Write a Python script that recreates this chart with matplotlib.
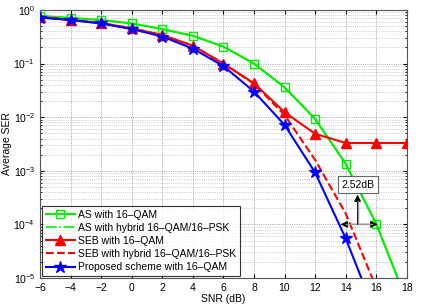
import numpy as np
import matplotlib
matplotlib.use('Agg')
import matplotlib.pyplot as plt
from matplotlib.ticker import LogLocator, NullFormatter

# SNR points (dB)
snr = [-6, -4, -2, 0, 2, 4, 6, 8, 10, 12, 14, 16, 18]

# Average SER
as_qam = [0.77, 0.71, 0.65, 0.56, 0.44, 0.33, 0.207, 0.10, 0.036, 0.0093, 0.00135, 1.03e-4, 3.7e-6]
as_hybrid = [0.77, 0.71, 0.65, 0.56, 0.44, 0.33, 0.207, 0.10, 0.036, 0.0093, 0.00135, 1.03e-4, 3.7e-6]
seb_qam = [0.74, 0.65, 0.57, 0.455, 0.34, 0.216, 0.10, 0.043, 0.0124, 0.0049, 0.0033, 0.0033, 0.0033]
seb_hybrid = [0.74, 0.65, 0.57, 0.455, 0.34, 0.216, 0.10, 0.042, 0.011, 0.0016, 1.6e-4, 6.6e-6, 2e-7]
proposed = [0.72, 0.65, 0.56, 0.44, 0.32, 0.19, 0.09, 0.030, 0.0072, 9.3e-4, 5.5e-5, 2e-6, 1e-7]

labels = ['AS with 16\u2013QAM', 'AS with hybrid 16\u2013QAM/16\u2013PSK',
          'SEB with 16\u2013QAM', 'SEB with hybrid 16\u2013QAM/16\u2013PSK',
          'Proposed scheme with 16\u2013QAM']

plt.rcParams['font.family'] = ['Liberation Sans', 'DejaVu Sans']
plt.rcParams['mathtext.fontset'] = 'custom'
plt.rcParams['mathtext.rm'] = 'Liberation Sans'
plt.rcParams['font.size'] = 7.5

fig = plt.figure(figsize=(4.32, 3.07), dpi=100)
ax = fig.add_axes([0.0926, 0.0945, 0.849, 0.873])

green = '#00ee00'
ax.semilogy(snr, as_qam, '-', color=green, lw=1.5, marker='s', ms=5.5,
            mfc='none', mew=1.0, label=labels[0], zorder=3)
ax.semilogy(snr, as_hybrid, '-.', color=green, lw=1.2, label=labels[1], zorder=2)
ax.semilogy(snr, seb_qam, '-', color='red', lw=1.5, marker='^', ms=6.5,
            label=labels[2], zorder=3)
ax.semilogy(snr, seb_hybrid, '--', color='red', lw=1.5, label=labels[3], zorder=3)
ax.semilogy(snr, proposed, '-', color='blue', lw=1.5, marker='*', ms=9,
            label=labels[4], zorder=4)

# 2.52 dB annotation
arrow = dict(arrowstyle='-|>', color='black', lw=0.8, mutation_scale=10,
             shrinkA=0, shrinkB=0)
ax.annotate('', xy=(13.67, 1e-4), xytext=(14.78, 1e-4), arrowprops=arrow, zorder=5)
ax.annotate('', xy=(16.09, 1e-4), xytext=(14.78, 1e-4), arrowprops=arrow, zorder=5)
ax.plot([14.0, 15.75], [1e-4, 1e-4], color='#999999', lw=1.0, zorder=5)
ax.annotate('', xy=(14.78, 3.6e-4), xytext=(14.78, 1e-4), arrowprops=arrow, zorder=5)
ax.plot([14.78, 14.78], [1e-4, 2.7e-4], color='#999999', lw=1.0, zorder=5)
ax.text(14.82, 5.5e-4, '2.52dB', ha='center', va='center', fontsize=7.5,
        bbox=dict(boxstyle='square,pad=0.35', fc='white', ec='#666666', lw=0.8),
        zorder=6)

ax.set_xlim(-6, 18)
ax.set_ylim(1e-5, 1)
ax.set_xticks(range(-6, 19, 2))
ax.set_xticklabels(['\u22126', '\u22124', '\u22122'] + [str(v) for v in range(0, 19, 2)])
ax.yaxis.set_major_locator(LogLocator(base=10, numticks=10))
ax.yaxis.set_minor_locator(LogLocator(base=10, subs=np.arange(2, 10), numticks=20))
ax.yaxis.set_minor_formatter(NullFormatter())

ax.grid(True, which='major', linestyle=':', color='#888888', lw=0.6)
ax.grid(True, which='minor', linestyle=':', color='#aaaaaa', lw=0.5)
ax.tick_params(which='both', direction='in', top=True, right=True, labelsize=7.5)
ax.tick_params(which='major', length=3)
ax.tick_params(which='minor', length=1.5)
for s in ax.spines.values():
    s.set_color('#555555')
    s.set_linewidth(0.8)

ax.set_xlabel('SNR (dB)', fontsize=7.5, labelpad=1)
ax.set_ylabel('Average SER', fontsize=7.5, labelpad=1)

leg = ax.legend(loc='lower left', fontsize=7.5, frameon=True, fancybox=False,
                borderaxespad=0.2, handlelength=2.8, labelspacing=0.3,
                borderpad=0.35, handletextpad=0.3)
leg.get_frame().set_edgecolor('black')
leg.get_frame().set_linewidth(0.8)

fig.savefig('out.png', dpi=100)
